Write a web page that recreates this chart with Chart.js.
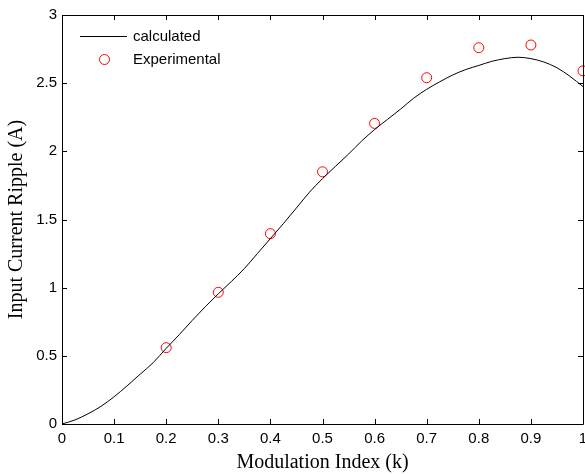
<!DOCTYPE html>
<html>
<head>
<meta charset="utf-8">
<title>Input Current Ripple</title>
<script src="https://cdn.jsdelivr.net/npm/chart.js@4.4.1/dist/chart.umd.min.js"></script>
<style>
  html, body { margin: 0; padding: 0; background: #fff; }
  #wrap { width: 585px; height: 475px; position: relative; }
</style>
</head>
<body>
<div id="wrap"><canvas id="rippleChart"></canvas></div>
<script>
// calculated ripple vs modulation index
const kCalc = [0, 0.025, 0.05, 0.075, 0.1, 0.125, 0.15, 0.175, 0.2, 0.225, 0.25, 0.275,
  0.3, 0.325, 0.35, 0.375, 0.4, 0.425, 0.45, 0.475, 0.5, 0.525, 0.55, 0.575,
  0.6, 0.625, 0.65, 0.675, 0.7, 0.725, 0.75, 0.775, 0.8, 0.825, 0.85, 0.875,
  0.9, 0.925, 0.95, 0.975, 1.0];
const rippleCalc = [0, 0.03, 0.075, 0.13, 0.2, 0.28, 0.365, 0.45, 0.555, 0.655, 0.76, 0.86,
  0.955, 1.045, 1.14, 1.25, 1.36, 1.47, 1.585, 1.7, 1.8, 1.89, 1.98, 2.075,
  2.16, 2.235, 2.31, 2.39, 2.455, 2.51, 2.56, 2.6, 2.63, 2.66, 2.68, 2.69,
  2.68, 2.655, 2.613, 2.55, 2.475];

// measured points
const kExp = [0.2, 0.3, 0.4, 0.5, 0.6, 0.7, 0.8, 0.9, 1.0];
const rippleExp = [0.56, 0.966, 1.396, 1.85, 2.205, 2.54, 2.76, 2.78, 2.59];

// axis ticks
const xTicks = [0, 0.1, 0.2, 0.3, 0.4, 0.5, 0.6, 0.7, 0.8, 0.9, 1];
const yTicks = [0, 0.5, 1, 1.5, 2, 2.5, 3];

const tickFont = { family: "'Liberation Sans', Arial, sans-serif", size: 15 };
const titleFont = { family: "'Liberation Serif', 'Times New Roman', serif", size: 20 };

const toPoints = (xs, ys) => xs.map((x, i) => ({ x: x, y: ys[i] }));

// box around the plot with inward ticks on all four sides
const framePlugin = {
  id: "frame",
  afterDraw(chart) {
    const { ctx, chartArea: a, scales } = chart;
    const len = 5;
    ctx.save();
    ctx.strokeStyle = "#000";
    ctx.lineWidth = 1;
    ctx.beginPath();
    ctx.rect(a.left + 0.5, a.top + 0.5, a.right - a.left, a.bottom - a.top);
    xTicks.forEach((v) => {
      const px = Math.round(scales.x.getPixelForValue(v)) + 0.5;
      ctx.moveTo(px, a.bottom);
      ctx.lineTo(px, a.bottom - len);
      ctx.moveTo(px, a.top);
      ctx.lineTo(px, a.top + len);
    });
    yTicks.forEach((v) => {
      const py = Math.round(scales.y.getPixelForValue(v)) + 0.5;
      ctx.moveTo(a.left, py);
      ctx.lineTo(a.left + len, py);
      ctx.moveTo(a.right, py);
      ctx.lineTo(a.right - len, py);
    });
    ctx.stroke();
    ctx.restore();
  },
};

// legend drawn inside the top left corner of the plot
const legendPlugin = {
  id: "insideLegend",
  afterDraw(chart) {
    const { ctx } = chart;
    ctx.save();
    ctx.font = `${tickFont.size}px ${tickFont.family}`;
    ctx.fillStyle = "#000";
    ctx.textBaseline = "middle";
    ctx.textAlign = "left";

    ctx.strokeStyle = "#000";
    ctx.lineWidth = 1;
    ctx.beginPath();
    ctx.moveTo(80, 36.5);
    ctx.lineTo(127, 36.5);
    ctx.stroke();
    ctx.fillText(chart.data.datasets[0].label, 133, 37);

    ctx.strokeStyle = "#ff0000";
    ctx.beginPath();
    ctx.arc(104.5, 59.5, 5, 0, Math.PI * 2);
    ctx.stroke();
    ctx.fillText(chart.data.datasets[1].label, 133, 60);
    ctx.restore();
  },
};

const ctx = document.getElementById("rippleChart").getContext("2d");
const chartInstance = new Chart(ctx, {
  type: "scatter",
  data: {
    datasets: [
      {
        label: "calculated",
        data: toPoints(kCalc, rippleCalc),
        showLine: true,
        borderColor: "#000",
        borderWidth: 1,
        pointRadius: 0,
        cubicInterpolationMode: "monotone",
      },
      {
        label: "Experimental",
        data: toPoints(kExp, rippleExp),
        showLine: false,
        pointStyle: "circle",
        pointRadius: 5,
        pointBorderWidth: 1,
        pointBorderColor: "#ff0000",
        pointBackgroundColor: "rgba(0,0,0,0)",
        clip: false,
      },
    ],
  },
  options: {
    responsive: true,
    maintainAspectRatio: false,
    animation: false,
    //keep the plot box fixed, markers may spill past the right edge
    layout: { autoPadding: false, padding: { top: 15, right: 2, left: 0, bottom: 0 } },
    plugins: {
      legend: { display: false },
      tooltip: { enabled: false },
    },
    scales: {
      x: {
        type: "linear",
        min: 0,
        max: 1,
        grid: { display: false, drawTicks: false },
        border: { display: false },
        afterBuildTicks: (scale) => {
          scale.ticks = xTicks.map((v) => ({ value: v }));
        },
        afterFit: (scale) => {
          scale.height = 51;
          scale.paddingLeft = 0;
          scale.paddingRight = 0;
        },
        ticks: {
          color: "#000",
          font: tickFont,
          padding: 6,
          maxRotation: 0,
          autoSkip: false,
          callback: (v) => String(v),
        },
        title: {
          display: true,
          text: "Modulation Index (k)",
          color: "#000",
          font: titleFont,
          padding: { top: 0, bottom: 0 },
        },
      },
      y: {
        type: "linear",
        min: 0,
        max: 3,
        grid: { display: false, drawTicks: false },
        border: { display: false },
        afterBuildTicks: (scale) => {
          scale.ticks = yTicks.map((v) => ({ value: v }));
        },
        afterFit: (scale) => {
          scale.width = 62;
          scale.paddingTop = 0;
          scale.paddingBottom = 0;
        },
        ticks: {
          color: "#000",
          font: tickFont,
          padding: 5,
          autoSkip: false,
          callback: (v) => String(v),
        },
        title: {
          display: true,
          text: "Input Current Ripple (A)",
          color: "#000",
          font: titleFont,
          padding: { top: 5, bottom: 0 },
        },
      },
    },
  },
  plugins: [framePlugin, legendPlugin],
});
</script>
</body>
</html>
